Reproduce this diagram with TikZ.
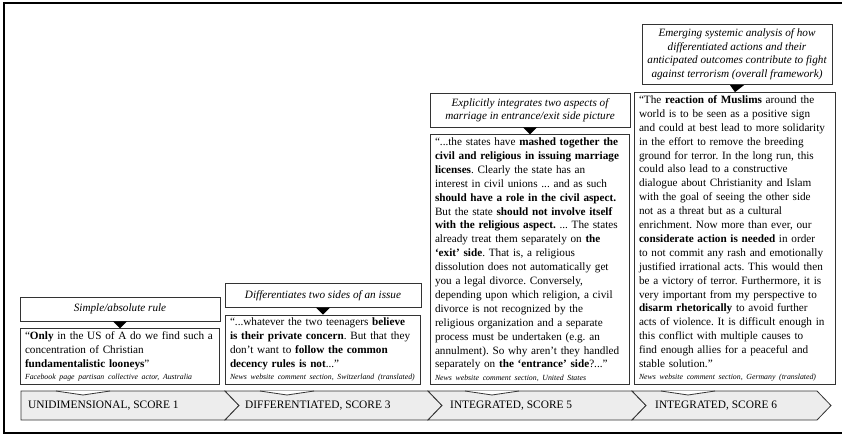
\documentclass[tikz,border=0pt]{standalone}
\usepackage{fontspec}
\setmainfont{Liberation Serif}
\usetikzlibrary{positioning}
\frenchspacing

\tikzset{
  quotebox/.style={draw=black!80, line width=0.8pt, fill=white, anchor=south, align=left,
    inner xsep=4.5pt, inner ysep=3pt, font=\fontsize{11.2}{13.9}\selectfont},
  labelbox/.style={draw=black!80, line width=0.8pt, fill=white, align=center,
    inner xsep=3pt, inner ysep=5pt, font=\fontsize{11.2}{13.5}\selectfont\itshape},
  stage/.style={draw=black!80, line width=0.8pt, fill=black!7},
  stagetext/.style={anchor=west, inner sep=0pt, font=\fontsize{11.4}{14}\selectfont},
  notch/.style={draw=black!80, line width=0.8pt, fill=white},
}
\newcommand{\srcnote}[1]{\\[-1.5pt]\mbox{\fontsize{7.8}{10}\selectfont\itshape #1}}

\begin{document}
\begin{tikzpicture}[x=1pt, y=-1pt]
\useasboundingbox (0,0) rectangle (842,438);
% outer frame
\draw[line width=2pt] (842,3) -- (4,3) -- (4,433) -- (842,433);

% stage band
\foreach \xl/\xr [count=\i] in {21/225, 225/428, 428/632, 632/817} {
  \ifnum\i=1
    \draw[stage] (\xl,391) -- (\xr,391) -- (\xr+14,405.5) -- (\xr,420) -- (\xl,420) -- cycle;
  \else
    \draw[stage] (\xl,391) -- (\xr,391) -- (\xr+14,405.5) -- (\xr,420) -- (\xl,420) -- (\xl+14,405.5) -- cycle;
  \fi
}
\node[stagetext] (s1) at (28,405.5) {UNIDIMENSIONAL, SCORE 1};
\node[stagetext] (s2) at (245,405.5) {DIFFERENTIATED, SCORE 3};
\node[stagetext] (s3) at (450,405.5) {INTEGRATED, SCORE 5};
\node[stagetext] (s4) at (655,405.5) {INTEGRATED, SCORE 6};

\foreach \x in {83,287,492,688}
  \filldraw[notch] (\x-27,391) -- (\x,395) -- (\x+27,391);

% quotes
\node[quotebox, text width=190pt] (q1) at (120,385) {%
“\textbf{Only} in the US of A do we find such a\\
concentration of Christian\\
\textbf{fundamentalistic looneys}”%
\srcnote{Facebook page partisan collective actor, Australia}};

\node[quotebox, text width=186pt] (q2) at (323,385) {%
“...whatever the two teenagers \textbf{believe}\\
\textbf{is their private concern}. But that they\\
don't want to \textbf{follow the common}\\
\textbf{decency rules is not}...”%
\srcnote{News website comment section, Switzerland (translated)}};

\node[quotebox, text width=190pt] (q3) at (530,385) {%
“...the states have \textbf{mashed together the}\\
\textbf{civil and religious in issuing marriage}\\
\textbf{licenses}. Clearly the state has an\\
interest in civil unions ... and as such\\
\textbf{should have a role in the civil aspect.}\\
But the state \textbf{should not involve itself}\\
\textbf{with the religious aspect.} ... The states\\
already treat them separately on \textbf{the}\\
\textbf{‘exit’ side}. That is, a religious\\
dissolution does not automatically get\\
you a legal divorce. Conversely,\\
depending upon which religion, a civil\\
divorce is not recognized by the\\
religious organization and a separate\\
process must be undertaken (e.g. an\\
annulment). So why aren't they handled\\
separately on \textbf{the ‘entrance’ side}?...”%
\srcnote{News website comment section, United States}};

\node[quotebox, text width=192pt] (q4) at (735,385) {%
“The \textbf{reaction of Muslims} around the\\
world is to be seen as a positive sign\\
and could at best lead to more solidarity\\
in the effort to remove the breeding\\
ground for terror. In the long run, this\\
could also lead to a constructive\\
dialogue about Christianity and Islam\\
with the goal of seeing the other side\\
not as a threat but as a cultural\\
enrichment. Now more than ever, our\\
\textbf{considerate action is needed} in order\\
to not commit any rash and emotionally\\
justified irrational acts. This would then\\
be a victory of terror. Furthermore, it is\\
very important from my perspective to\\
\textbf{disarm rhetorically} to avoid further\\
acts of violence. It is difficult enough in\\
this conflict with multiple causes to\\
find enough allies for a peaceful and\\
stable solution.”%
\srcnote{News website comment section, Germany (translated)}};

% labels
\node[labelbox, minimum width=200pt, minimum height=24pt, above=7pt of q1] (l1) {Simple/absolute rule};
\node[labelbox, minimum width=196pt, minimum height=24pt, above=7pt of q2] (l2) {Differentiates two sides of an issue};
\node[labelbox, minimum width=200pt, above=7pt of q3] (l3) {Explicitly integrates two aspects of\\
marriage in entrance/exit side picture};
\node[labelbox, minimum width=190pt, above=7pt of q4, xshift=2pt] (l4) {Emerging systemic analysis of how\\
differentiated actions and their\\
anticipated outcomes contribute to fight\\
against terrorism (overall framework)};

\foreach \i in {1,...,4}
  \fill ([xshift=-7pt]l\i.south) -- ([xshift=7pt]l\i.south) -- (q\i.north) -- cycle;
\end{tikzpicture}
\end{document}
